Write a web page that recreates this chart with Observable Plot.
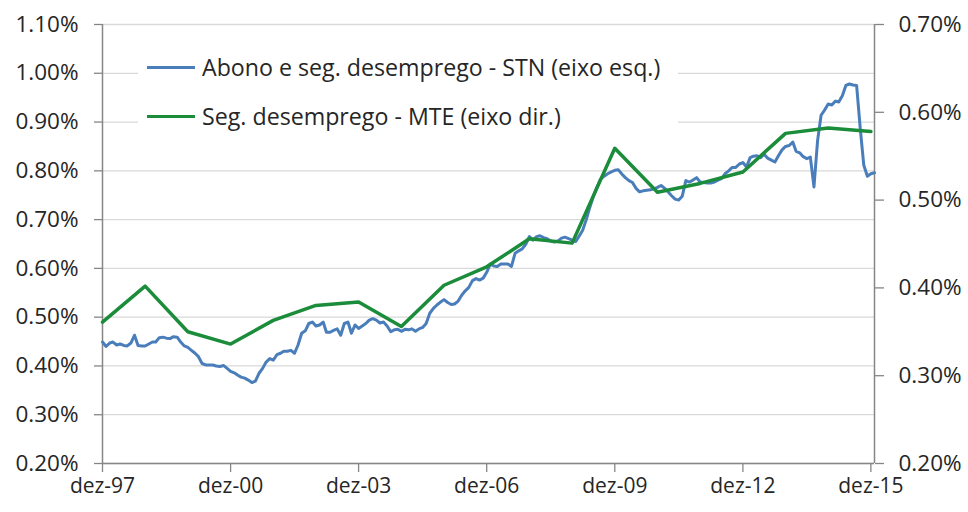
<!DOCTYPE html>
<html>
<head>
<meta charset="utf-8">
<script src="https://cdn.jsdelivr.net/npm/d3@7"></script>
<script src="https://cdn.jsdelivr.net/npm/@observablehq/plot@0.6"></script>
<style>
  body { margin: 0; background: #fff; }
  #wrap { position: relative; width: 968px; height: 512px; font-family: "Open Sans", sans-serif; }
  #legend { position: absolute; left: 138px; top: 40px; width: 540px; height: 100px; background: #fff; }
  .item { position: absolute; left: 0; height: 30px; display: flex; align-items: center; }
  .swatch { width: 48px; height: 0; margin-left: 9px; margin-right: 7px; }
  .lab { font-size: 23.2px; color: #262626; white-space: nowrap; }
</style>
</head>
<body>
<div id="wrap">
  <div id="chart"></div>
  <div id="legend"></div>
</div>
<script>
// Monthly series (left axis, %), starting dez-97
const blueStart = [1997, 11]; // year, month index (0 = jan)
const blueValues = [
  0.449,0.440,0.447,0.449,0.443,0.445,0.442,0.441,0.447,0.463,
  0.442,0.441,0.441,0.445,0.449,0.449,0.458,0.459,0.457,0.456,
  0.460,0.459,0.449,0.441,0.438,0.432,0.426,0.419,0.405,0.402,
  0.402,0.402,0.400,0.399,0.401,0.395,0.389,0.386,0.381,0.377,
  0.375,0.371,0.366,0.369,0.385,0.395,0.408,0.415,0.412,0.423,
  0.426,0.430,0.430,0.432,0.426,0.443,0.467,0.472,0.487,0.490,
  0.482,0.484,0.490,0.469,0.469,0.473,0.476,0.463,0.487,0.490,
  0.467,0.484,0.477,0.482,0.487,0.494,0.497,0.494,0.488,0.490,
  0.482,0.470,0.474,0.475,0.471,0.475,0.474,0.476,0.471,0.476,
  0.479,0.487,0.508,0.518,0.525,0.531,0.536,0.530,0.526,0.527,
  0.533,0.545,0.554,0.561,0.575,0.579,0.576,0.580,0.592,0.609,
  0.605,0.604,0.609,0.609,0.609,0.604,0.631,0.636,0.640,0.650,
  0.665,0.658,0.665,0.667,0.663,0.661,0.656,0.654,0.656,0.662,
  0.664,0.661,0.658,0.655,0.667,0.678,0.700,0.725,0.748,0.766,
  0.783,0.789,0.794,0.798,0.801,0.802,0.793,0.786,0.780,0.776,
  0.764,0.757,0.759,0.760,0.761,0.763,0.766,0.770,0.764,0.757,
  0.749,0.742,0.740,0.748,0.780,0.777,0.781,0.786,0.777,0.776,
  0.775,0.775,0.777,0.781,0.784,0.794,0.800,0.807,0.807,0.814,
  0.817,0.808,0.827,0.830,0.831,0.827,0.834,0.826,0.822,0.818,
  0.831,0.843,0.850,0.852,0.859,0.840,0.837,0.829,0.825,0.828,
  0.767,0.862,0.914,0.925,0.937,0.935,0.943,0.941,0.954,0.975,
  0.978,0.976,0.975,0.887,0.812,0.789,0.794,0.796
];

// Annual series (right axis, %), December of each year
const greenYears = [1997,1998,1999,2000,2001,2002,2003,2004,2005,2006,2007,2008,2009,2010,2011,2012,2013,2014,2015];
const greenValues = [0.361,0.402,0.350,0.336,0.363,0.380,0.384,0.356,0.403,0.424,0.456,0.451,0.559,0.509,0.519,0.532,0.576,0.582,0.578];

const xTickYears = [1997,2000,2003,2006,2009,2012,2015];
const xTickLabels = ["dez-97","dez-00","dez-03","dez-06","dez-09","dez-12","dez-15"];
const leftTicks = [0.20,0.30,0.40,0.50,0.60,0.70,0.80,0.90,1.00,1.10];
const rightTicks = [0.20,0.30,0.40,0.50,0.60,0.70];

const seriesNames = ["Abono e seg. desemprego - STN (eixo esq.)", "Seg. desemprego - MTE (eixo dir.)"];
const seriesColors = ["#4a7ebb", "#1a8c3a"];

// right-axis domain [0.20, 0.70] mapped onto left-axis domain [0.20, 1.10]
const leftDomain = [0.20, 1.10];
const rightDomain = [0.20, 0.70];
const k = (leftDomain[1] - leftDomain[0]) / (rightDomain[1] - rightDomain[0]);
const toLeft = v => leftDomain[0] + (v - rightDomain[0]) * k;
const toRight = v => rightDomain[0] + (v - leftDomain[0]) / k;

const blue = blueValues.map((v, i) => ({date: new Date(Date.UTC(blueStart[0], blueStart[1] + i, 1)), value: v}));
const green = greenYears.map((y, i) => ({date: new Date(Date.UTC(y, 11, 1)), value: greenValues[i]}));
const xTicks = xTickYears.map(y => new Date(Date.UTC(y, 11, 1)));
const labelByTime = new Map(xTicks.map((d, i) => [+d, xTickLabels[i]]));
const x0 = blue[0].date, x1 = blue[blue.length - 1].date;

const axisColor = "#868686";
const textColor = "#262626";

const chart = Plot.plot({
  width: 968, height: 512,
  marginLeft: 102, marginRight: 94, marginTop: 24, marginBottom: 49,
  style: {fontFamily: "Open Sans", fontSize: "20px", background: "white", color: textColor},
  x: {type: "utc", domain: [x0, x1]},
  y: {domain: leftDomain},
  marks: [
    Plot.gridY(leftTicks, {stroke: "#d9d9d9", strokeOpacity: 1, strokeWidth: 1.3}),
    Plot.ruleX([x0], {stroke: axisColor, strokeWidth: 1.5}),
    Plot.ruleX([x1], {stroke: axisColor, strokeWidth: 1.5}),
    Plot.ruleY([leftDomain[0]], {stroke: axisColor, strokeWidth: 1.5}),
    Plot.axisY(leftTicks, {anchor: "left", tickSize: 8, tickPadding: 16, fontSize: 22.5, stroke: axisColor, fill: textColor, strokeWidth: 1.3, tickFormat: d => d.toFixed(2) + "%", label: null}),
    Plot.axisY(rightTicks.map(toLeft), {anchor: "right", tickSize: 9, tickPadding: 15, fontSize: 22.5, stroke: axisColor, fill: textColor, strokeWidth: 1.3, tickFormat: d => toRight(d).toFixed(2) + "%", label: null}),
    Plot.axisX(xTicks, {tickSize: 9, tickPadding: 6, fontSize: 21, stroke: axisColor, fill: textColor, strokeWidth: 1.3, tickFormat: d => labelByTime.get(+d), label: null}),
    Plot.lineY(blue, {x: "date", y: "value", stroke: seriesColors[0], strokeWidth: 3, strokeLinejoin: "round"}),
    Plot.lineY(green, {x: "date", y: d => toLeft(d.value), stroke: seriesColors[1], strokeWidth: 3.5, strokeLinejoin: "round"})
  ]
});
document.getElementById("chart").appendChild(chart);

const legend = document.getElementById("legend");
const tops = [12, 61];
seriesNames.forEach((name, i) => {
  const item = document.createElement("div");
  item.className = "item";
  item.style.top = tops[i] + "px";
  const sw = document.createElement("div");
  sw.className = "swatch";
  sw.style.borderTop = `3px solid ${seriesColors[i]}`;
  const lab = document.createElement("span");
  lab.className = "lab";
  lab.textContent = name;
  item.appendChild(sw);
  item.appendChild(lab);
  legend.appendChild(item);
});
</script>
</body>
</html>
